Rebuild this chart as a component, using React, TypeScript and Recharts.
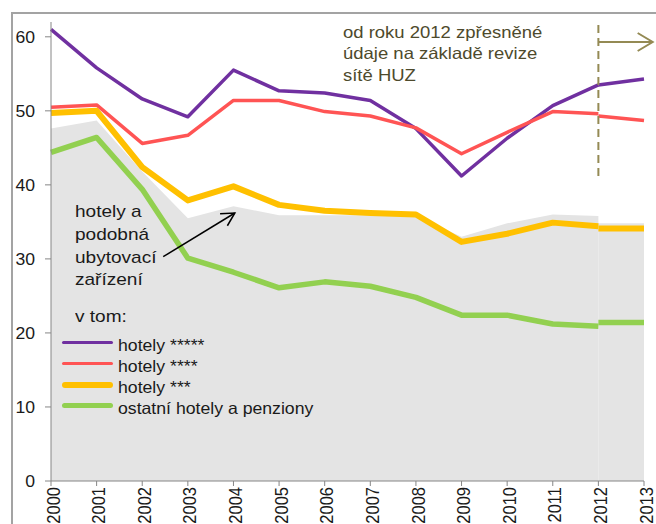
import { ComposedChart, Line, Area, XAxis, YAxis, ReferenceLine } from "recharts";

// Years: series were re-based in 2012 (revision of the HUZ network), so each series has an old and a new part.
const yearsOld = [2000, 2001, 2002, 2003, 2004, 2005, 2006, 2007, 2008, 2009, 2010, 2011, 2012];
const yearsNew = [2012, 2013];
const yearTicks = [2000, 2001, 2002, 2003, 2004, 2005, 2006, 2007, 2008, 2009, 2010, 2011, 2012, 2013];
const valueTicks = [0, 10, 20, 30, 40, 50, 60];

const totalOld = [47.6, 48.7, 41.8, 35.5, 37.1, 35.9, 35.9, 35.9, 35.8, 33.0, 34.8, 36.0, 35.8];
const totalNew = [34.8, 34.8];
const fiveStarOld = [61.0, 55.8, 51.6, 49.2, 55.5, 52.7, 52.4, 51.4, 47.6, 41.2, 46.3, 50.7, 53.5];
const fiveStarNew = [53.5, 54.3];
const fourStarOld = [50.5, 50.8, 45.6, 46.7, 51.4, 51.4, 49.9, 49.3, 47.7, 44.2, 47.1, 49.9, 49.6];
const fourStarNew = [49.3, 48.7];
const threeStarOld = [49.7, 50.0, 42.4, 37.9, 39.8, 37.3, 36.5, 36.2, 36.0, 32.3, 33.4, 34.9, 34.4];
const threeStarNew = [34.1, 34.1];
const otherOld = [44.4, 46.4, 39.4, 30.1, 28.2, 26.1, 26.9, 26.3, 24.8, 22.4, 22.4, 21.2, 20.9];
const otherNew = [21.4, 21.4];

const seriesNames = ["hotely *****", "hotely ****", "hotely ***", "ostatní hotely a penziony"];

const oldRows = yearsOld.map((year, i) => ({
  year,
  total: totalOld[i],
  five: fiveStarOld[i],
  four: fourStarOld[i],
  three: threeStarOld[i],
  other: otherOld[i],
}));
const newRows = yearsNew.map((year, i) => ({
  year,
  total: totalNew[i],
  five: fiveStarNew[i],
  four: fourStarNew[i],
  three: threeStarNew[i],
  other: otherNew[i],
}));

const FONT = "'Liberation Sans', Arial, sans-serif";
const series = [
  { key: "five", color: "#7030A0", width: 3.5 },
  { key: "four", color: "#FF5454", width: 3.5 },
  { key: "three", color: "#FFC000", width: 6 },
  { key: "other", color: "#92D050", width: 5.5 },
];

function XTick({ x, y, payload }: any) {
  return (
    <text
      transform={`translate(${x},${y}) scale(1.08,1) rotate(-90)`}
      textAnchor="end"
      dy={8}
      fontSize={16.5}
      fontFamily={FONT}
      fill="#1a1a1a"
    >
      {payload.value}
    </text>
  );
}

function YTick({ x, y, payload }: any) {
  return (
    <text transform={`translate(${x},${y}) scale(1.1,1)`} textAnchor="end" dy="0.36em" fontSize={16} fontFamily={FONT} fill="#1a1a1a">
      {payload.value}
    </text>
  );
}

// line with an open arrow head at the end
function arrowShape(color: string, width: number, len: number, half: number) {
  return (p: any) => {
    const { x1, y1, x2, y2 } = p;
    const a = Math.atan2(y2 - y1, x2 - x1);
    const bx = x2 - len * Math.cos(a);
    const by = y2 - len * Math.sin(a);
    const nx = -Math.sin(a) * half;
    const ny = Math.cos(a) * half;
    return (
      <g>
        <line x1={x1} y1={y1} x2={x2} y2={y2} stroke={color} strokeWidth={width} />
        <polyline
          points={`${bx + nx},${by + ny} ${x2},${y2} ${bx - nx},${by - ny}`}
          fill="none"
          stroke={color}
          strokeWidth={width}
        />
      </g>
    );
  };
}

const textBox = { position: "absolute" as const, fontFamily: FONT, whiteSpace: "nowrap" as const, transformOrigin: "left top", transform: "scaleX(1.12)" };

export default function App() {
  return (
    <div style={{ position: "absolute", left: 0, top: 0, width: 656, height: 524, overflow: "hidden", background: "#fff" }}>
      <div style={{ position: "absolute", left: 11, top: 12, width: 700, height: 600, borderLeft: "2px solid #a3a3a3", borderTop: "2px solid #a3a3a3" }} />
      <div style={{ position: "absolute", left: 0, top: 0 }}>
        <ComposedChart width={656} height={524} margin={{ top: 22, right: 12, bottom: 0, left: 0 }}>
          <XAxis
            type="number"
            dataKey="year"
            domain={[2000, 2013]}
            ticks={yearTicks}
            interval={0}
            height={43}
            tickSize={5}
            tickMargin={1}
            stroke="#868686"
            tick={XTick}
          />
          <YAxis
            type="number"
            domain={[0, 62]}
            ticks={valueTicks}
            width={51}
            tickSize={6}
            tickMargin={10}
            stroke="#868686"
            tick={YTick}
          />
          <Area data={oldRows} dataKey="total" type="linear" fill="#e4e4e4" fillOpacity={1} stroke="none" isAnimationActive={false} />
          <Area data={newRows} dataKey="total" type="linear" fill="#e4e4e4" fillOpacity={1} stroke="none" isAnimationActive={false} />
          {series.map((s) => (
            <Line
              key={s.key + "old"}
              data={oldRows}
              dataKey={s.key}
              type="linear"
              stroke={s.color}
              strokeWidth={s.width}
              strokeLinejoin="round"
              dot={false}
              activeDot={false}
              isAnimationActive={false}
            />
          ))}
          {series.map((s) => (
            <Line
              key={s.key + "new"}
              data={newRows}
              dataKey={s.key}
              type="linear"
              stroke={s.color}
              strokeWidth={s.width}
              strokeLinejoin="round"
              dot={false}
              activeDot={false}
              isAnimationActive={false}
            />
          ))}
          <ReferenceLine
            segment={[{ x: 2012, y: 41.2 }, { x: 2012, y: 62.2 }]}
            stroke="#948A54"
            strokeWidth={2}
            strokeDasharray="8 5"
            ifOverflow="visible"
          />
          <ReferenceLine
            segment={[{ x: 2012, y: 59.3 }, { x: 2013.19, y: 59.3 }]}
            ifOverflow="visible"
            shape={arrowShape("#948A54", 2, 15, 9)}
          />
          <ReferenceLine
            segment={[{ x: 2002.46, y: 30.3 }, { x: 2004.03, y: 36.2 }]}
            ifOverflow="visible"
            shape={arrowShape("#000", 1.5, 13, 7)}
          />
        </ComposedChart>
      </div>

      <div style={{ ...textBox, left: 342.5, top: 21.7, fontSize: 16.5, lineHeight: "21.7px", color: "#4e4a2c" }}>
        od roku 2012 zpřesněné
        <br />
        údaje na základě revize
        <br />
        sítě HUZ
      </div>

      <div style={{ ...textBox, left: 75, top: 201, fontSize: 17, lineHeight: "22.8px", color: "#1a1a1a" }}>
        hotely a
        <br />
        podobná
        <br />
        ubytovací
        <br />
        zařízení
      </div>

      <div style={{ ...textBox, left: 75, top: 306, fontSize: 17, lineHeight: "22px", color: "#1a1a1a" }}>v tom:</div>

      {seriesNames.map((name, i) => (
        <div key={name} style={{ position: "absolute", left: 0, top: 335 + i * 21, height: 21 }}>
          <div
            style={{
              position: "absolute",
              left: 62,
              top: 7.5 - series[i].width / 2,
              width: 51,
              height: series[i].width,
              borderRadius: series[i].width,
              background: series[i].color,
            }}
          />
          <div style={{ ...textBox, transform: "scaleX(1.07)", left: 118, top: 0, fontSize: 16.5, lineHeight: "21px", color: "#1a1a1a" }}>{name}</div>
        </div>
      ))}
    </div>
  );
}
